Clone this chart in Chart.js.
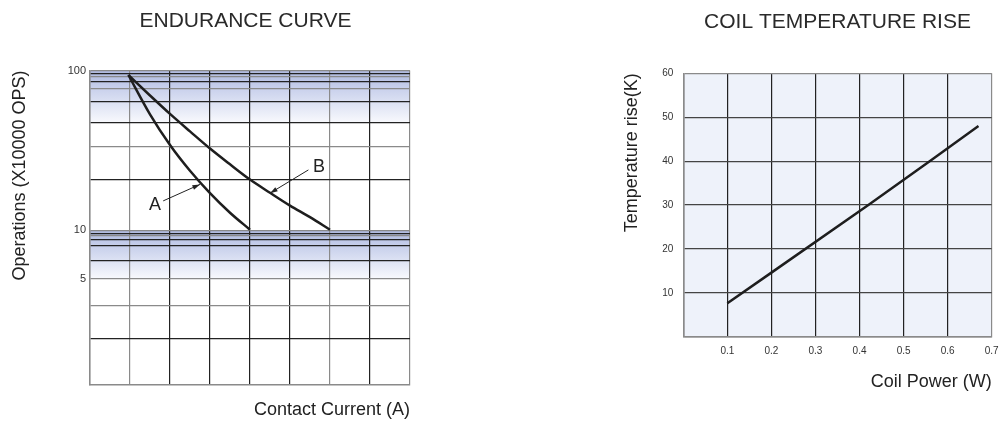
<!DOCTYPE html>
<html>
<head>
<meta charset="utf-8">
<script src="https://cdn.jsdelivr.net/npm/chart.js@4.4.1/dist/chart.umd.min.js"></script>
<style>
  html, body { margin: 0; padding: 0; background: #fff; }
  #wrap { position: relative; width: 1000px; height: 423px; overflow: hidden; }
  #endurance { position: absolute; left: 0; top: 0; }
  #coil { position: absolute; left: 500px; top: 0; }
</style>
</head>
<body>
<div id="wrap">
  <canvas id="endurance" width="500" height="423"></canvas>
  <canvas id="coil" width="500" height="423"></canvas>
</div>
<script>
// endurance curves (x in grid columns)
let currentA = [0.96, 1.5, 2, 2.5, 3, 3.5, 4];
let opsA = [93.7, 53.2, 34.2, 23.6, 17.1, 12.9, 10.1];
let currentB = [0.96, 1.5, 2, 2.5, 3, 3.5, 4, 4.5, 5, 5.5, 6];
let opsB = [93.7, 69.8, 53.5, 41.6, 32.5, 25.9, 20.8, 17.2, 14.3, 12.1, 10.1];
// the log grid of the original is not evenly spaced
let opsGrid = [100, 96, 91.5, 85.1, 77.4, 63.8, 47.2, 33.4, 20.7, 10, 9.6, 9.24, 8.81, 8.0, 6.48, 5, 3.37, 2.12];
let opsLabels = [100, 10, 5];
let opsGrey = [100, 91.5, 77.4, 33.4, 10, 9.24, 5, 3.37];
let opsShade = [[100, 47.2], [10, 5]];

// coil temperature rise
let powerW = [0.1, 0.2, 0.42, 0.56, 0.67];
let riseK = [7.6, 14.6, 30, 40, 48];

// A / B callouts (data units)
const marks = [
  { text: "A", at: [1.625, 14.4], from: [1.83, 15.3], to: [2.75, 19.4] },
  { text: "B", at: [5.725, 24.8], from: [5.46, 23.9], to: [4.5, 17.1] },
];

const FONT = '"Liberation Sans", Arial, Helvetica, sans-serif';
Chart.defaults.font.family = FONT;
Chart.defaults.color = "#333";

const shadePlugin = {
  id: "shade",
  beforeDraw(chart) {
    const { ctx, chartArea: a, scales } = chart;
    const y = scales.y;
    ctx.save();
    opsShade.forEach(([hi, lo]) => {
      const top = y.getPixelForValue(hi);
      const bot = y.getPixelForValue(lo);
      const g = ctx.createLinearGradient(0, top, 0, bot);
      g.addColorStop(0, "#aeb9df");
      g.addColorStop(0.35, "#c9d1ec");
      g.addColorStop(1, "#f8f9fd");
      ctx.fillStyle = g;
      ctx.fillRect(a.left, top, a.right - a.left, bot - top);
    });
    ctx.restore();
  },
};

const markPlugin = {
  id: "marks",
  afterDatasetsDraw(chart) {
    const { ctx, scales } = chart;
    const x = scales.x, y = scales.y;
    ctx.save();
    marks.forEach((m) => {
      const x0 = x.getPixelForValue(m.from[0]), y0 = y.getPixelForValue(m.from[1]);
      const x1 = x.getPixelForValue(m.to[0]), y1 = y.getPixelForValue(m.to[1]);
      ctx.strokeStyle = "#222";
      ctx.fillStyle = "#222";
      ctx.lineWidth = 1;
      ctx.beginPath();
      ctx.moveTo(x0, y0);
      ctx.lineTo(x1, y1);
      ctx.stroke();
      const ang = Math.atan2(y1 - y0, x1 - x0);
      ctx.beginPath();
      ctx.moveTo(x1, y1);
      ctx.lineTo(x1 - 8 * Math.cos(ang - 0.3), y1 - 8 * Math.sin(ang - 0.3));
      ctx.lineTo(x1 - 8 * Math.cos(ang + 0.3), y1 - 8 * Math.sin(ang + 0.3));
      ctx.closePath();
      ctx.fill();
      ctx.font = "18px " + FONT;
      ctx.textAlign = "center";
      ctx.textBaseline = "middle";
      ctx.fillText(m.text, x.getPixelForValue(m.at[0]), y.getPixelForValue(m.at[1]));
    });
    ctx.restore();
  },
};

const panelPlugin = {
  id: "panel",
  beforeDraw(chart) {
    const { ctx, chartArea: a } = chart;
    ctx.save();
    ctx.fillStyle = "#eef2fa";
    ctx.fillRect(a.left, a.top, a.right - a.left, a.bottom - a.top);
    ctx.restore();
  },
};

document.addEventListener("DOMContentLoaded", function () {
  const config1 = {
    type: "line",
    data: {
      datasets: [
        {
          label: "A",
          data: currentA.map((c, i) => ({ x: c, y: opsA[i] })),
          borderColor: "#1e1e1e",
          borderWidth: 2.5,
          pointRadius: 0,
          cubicInterpolationMode: "monotone",
        },
        {
          label: "B",
          data: currentB.map((c, i) => ({ x: c, y: opsB[i] })),
          borderColor: "#1e1e1e",
          borderWidth: 2.5,
          pointRadius: 0,
          cubicInterpolationMode: "monotone",
        },
      ],
    },
    options: {
      responsive: false,
      animation: false,
      layout: { padding: { left: 0, right: 9, top: 0, bottom: 0 } },
      plugins: {
        legend: { display: false },
        tooltip: { enabled: false },
        title: {
          display: true,
          text: "ENDURANCE CURVE",
          color: "#2a2a2a",
          font: { size: 21, weight: "normal" },
          padding: { top: 9, bottom: 36.3 },
        },
      },
      scales: {
        x: {
          type: "linear",
          min: 0,
          max: 8,
          ticks: { display: false, stepSize: 1 },
          grid: {
            drawTicks: false,
            lineWidth: 1.2,
            color: (c) => ([0, 1, 6, 8].includes(c.tick.value) ? "#8a8a8a" : "#222"),
          },
          border: { color: "#8a8a8a", width: 1.5 },
          title: {
            display: true,
            text: "Contact Current (A)",
            align: "end",
            color: "#222",
            font: { size: 18 },
            padding: { top: 0, bottom: 2.2 },
          },
          afterFit(s) { s.height = 38; },
        },
        y: {
          type: "logarithmic",
          min: 1.08,
          max: 100,
          afterBuildTicks(s) { s.ticks = opsGrid.map((v) => ({ value: v })); },
          ticks: {
            autoSkip: false,
            padding: 4,
            font: { size: 11 },
            color: "#333",
            callback: (v) => (opsLabels.includes(v) ? String(v) : ""),
          },
          grid: {
            drawTicks: false,
            lineWidth: 1.2,
            color: (c) => (opsGrey.includes(c.tick.value) ? "#8a8a8a" : "#222"),
          },
          border: { color: "#8a8a8a", width: 1.5 },
          title: {
            display: true,
            text: "Operations (X10000 OPS)",
            align: "end",
            color: "#222",
            font: { size: 18 },
            padding: { top: 9.2, bottom: 0 },
          },
          afterFit(s) { s.width = 90; },
        },
        spacer: {
          type: "linear",
          position: "right",
          grid: { display: false },
          ticks: { display: false },
          border: { display: false },
          afterFit(s) { s.width = 81; },
        },
      },
    },
    plugins: [shadePlugin, markPlugin],
  };
  const chart1 = new Chart(document.getElementById("endurance"), config1);

  const config2 = {
    type: "line",
    data: {
      datasets: [
        {
          label: "Temperature rise",
          data: powerW.map((p, i) => ({ x: p, y: riseK[i] })),
          borderColor: "#1e1e1e",
          borderWidth: 2.5,
          pointRadius: 0,
          tension: 0,
        },
      ],
    },
    options: {
      responsive: false,
      animation: false,
      layout: { padding: { left: 0, right: 8.3, top: 0, bottom: 0 } },
      plugins: {
        legend: { display: false },
        tooltip: { enabled: false },
        title: {
          display: true,
          fullSize: false,
          text: "COIL TEMPERATURE RISE",
          color: "#2a2a2a",
          font: { size: 21, weight: "normal" },
          padding: { top: 10.1, bottom: 38 },
        },
      },
      scales: {
        x: {
          type: "linear",
          min: 0,
          max: 0.7,
          ticks: {
            stepSize: 0.1,
            padding: 0,
            font: { size: 10 },
            color: "#333",
            callback: (v) => (v === 0 ? "" : v.toFixed(1)),
          },
          grid: {
            drawTicks: true,
            tickLength: 9,
            tickColor: "rgba(0,0,0,0)",
            lineWidth: 1.2,
            color: (c) => (c.tick.value >= 0.69 ? "#8a8a8a" : "#222"),
          },
          border: { color: "#8a8a8a", width: 1.5 },
          title: {
            display: true,
            text: "Coil Power (W)",
            align: "end",
            color: "#222",
            font: { size: 18 },
            padding: { top: 0, bottom: 30.5 },
          },
          afterFit(s) { s.height = 86.3; },
        },
        y: {
          type: "linear",
          min: 0,
          max: 60,
          ticks: {
            stepSize: 10,
            padding: 10,
            font: { size: 10 },
            color: "#333",
            callback: (v) => (v === 0 ? "" : String(v)),
          },
          grid: {
            drawTicks: false,
            lineWidth: 1.2,
            color: (c) => (c.tick.value === 60 ? "#8a8a8a" : "#444"),
          },
          border: { color: "#8a8a8a", width: 1.5 },
          title: {
            display: true,
            text: "Temperature rise(K)",
            align: "end",
            color: "#222",
            font: { size: 18 },
            padding: { top: 120.9, bottom: 0 },
          },
          afterFit(s) { s.width = 183.3; },
        },
      },
    },
    plugins: [panelPlugin],
  };
  const chart2 = new Chart(document.getElementById("coil"), config2);
});
</script>
</body>
</html>
